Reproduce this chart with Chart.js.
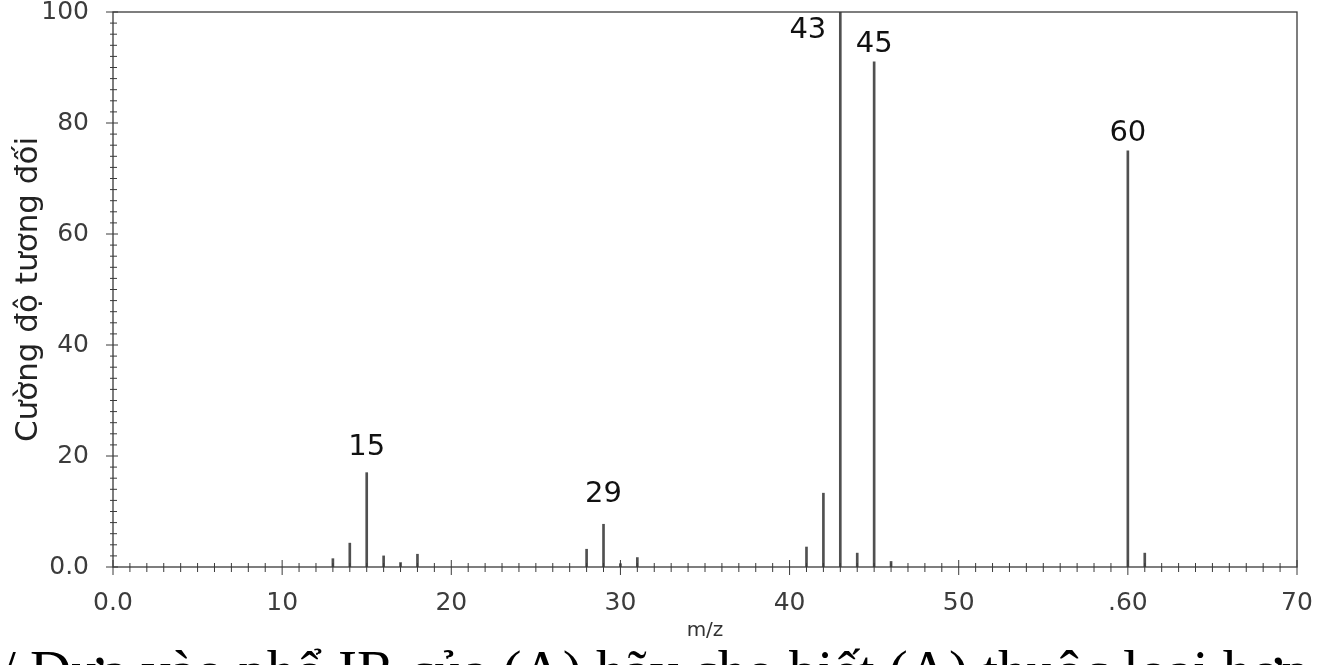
<!DOCTYPE html>
<html>
<head>
<meta charset="utf-8">
<script src="https://cdn.jsdelivr.net/npm/chart.js@4.4.1/dist/chart.umd.min.js"></script>
<style>
  html,body{margin:0;padding:0;background:#fff;overflow:hidden;}
  #wrap{position:relative;width:1317px;height:665px;overflow:hidden;}
  #c{position:absolute;left:0;top:0;}
  #cap{position:absolute;left:0px;top:642px;line-height:1;white-space:nowrap;font-family:"Liberation Serif","Times New Roman",serif;font-size:57px;color:#000;}
</style>
</head>
<body>
<div id="wrap">
<canvas id="c" width="1317" height="665"></canvas>
<div id="cap">/ Dựa vào phổ IR của (A) hãy cho biết (A) thuộc loại hợp chất nào</div>
</div>
<script>
const mzValues = [13, 14, 15, 16, 17, 18, 28, 29, 30, 31, 41, 42, 43, 44, 45, 46, 60, 61];
const intensities = [1.5, 4.3, 17, 2, 0.8, 2.3, 3.2, 7.7, 0.6, 1.7, 3.6, 13.3, 100, 2.5, 91, 1, 75, 2.5];
const labelledPeaks = [15, 29, 43, 45, 60];
const xTickLabels = {0: '0.0', 10: '10', 20: '20', 30: '30', 40: '40', 50: '50', 60: '.60', 70: '70'};
const yTickLabels = {0: '0.0', 20: '20', 40: '40', 60: '60', 80: '80', 100: '100'};
const xTitle = 'm/z';
const yTitle = 'Cường độ tương đối';

const lineColor = '#3a3a3a';
const fam = '"DejaVu Sans", Verdana, sans-serif';

const framePlugin = {
  id: 'frame',
  afterDraw(chart) {
    const {ctx, chartArea: a, scales: {x, y}} = chart;
    ctx.save();
    ctx.strokeStyle = lineColor;
    ctx.lineWidth = 1.3;
    ctx.strokeRect(a.left, a.top, a.right - a.left, a.bottom - a.top);
    ctx.lineWidth = 1;
    for (let v = 0; v <= 70; v++) {
      const px = x.getPixelForValue(v);
      const major = v % 10 === 0;
      ctx.beginPath();
      ctx.moveTo(px, a.bottom - (major ? 7 : 4));
      ctx.lineTo(px, a.bottom + (major ? 8 : 5));
      ctx.stroke();
    }
    for (let v = 0; v <= 100; v += 2) {
      const py = y.getPixelForValue(v);
      const major = v % 20 === 0;
      ctx.beginPath();
      ctx.moveTo(a.left - (major ? 7 : 3), py);
      ctx.lineTo(a.left + (major ? 5 : 4), py);
      ctx.stroke();
    }
    ctx.fillStyle = '#111';
    ctx.font = '29px ' + fam;
    ctx.textBaseline = 'alphabetic';
    // gap between a peak top and its label baseline (layout only)
    const gapFor = v => v < 12 ? 22 : (v < 30 ? 18 : 10);
    labelledPeaks.forEach(m => {
      const i = mzValues.indexOf(m);
      const px = x.getPixelForValue(m);
      const py = y.getPixelForValue(intensities[i]);
      if (intensities[i] >= 100) {
        ctx.textAlign = 'right';
        ctx.fillText(String(m), px - 14, py + 26);
      } else {
        ctx.textAlign = 'center';
        ctx.fillText(String(m), px, py - gapFor(intensities[i]));
      }
    });
    ctx.restore();
  }
};

new Chart(document.getElementById('c'), {
  type: 'bar',
  data: {
    datasets: [{
      data: mzValues.map((m, i) => ({x: m, y: intensities[i]})),
      backgroundColor: '#505050',
      borderWidth: 0,
      barThickness: 2,
    }]
  },
  options: {
    responsive: false,
    animation: false,
    events: [],
    layout: {padding: {top: 12, right: 20, left: 0, bottom: 0}},
    plugins: {legend: {display: false}, tooltip: {enabled: false}},
    scales: {
      x: {
        type: 'linear',
        min: 0, max: 70,
        offset: false,
        grid: {display: false},
        border: {display: false},
        afterFit(s) { s.height = 98; s.paddingLeft = 0; s.paddingRight = 0; },
        afterBuildTicks(s) { s.ticks = Object.keys(xTickLabels).map(v => ({value: +v})); },
        ticks: {
          autoSkip: false, maxRotation: 0, padding: 13,
          color: '#3c3c3c',
          font: {family: fam, size: 25},
          callback: v => xTickLabels[v]
        },
        title: {display: true, text: xTitle, color: '#333', padding: {top: 0, bottom: 22},
          font: {family: fam, size: 20}}
      },
      y: {
        min: 0, max: 100,
        grid: {display: false},
        border: {display: false},
        afterFit(s) { s.width = 113; s.paddingTop = 0; s.paddingBottom = 0; },
        afterBuildTicks(s) { s.ticks = Object.keys(yTickLabels).map(v => ({value: +v})); },
        ticks: {
          padding: 16,
          color: '#3c3c3c',
          font: {family: fam, size: 25},
          callback: v => yTickLabels[v]
        },
        title: {display: true, text: yTitle, color: '#222', padding: {top: 10, bottom: 0},
          font: {family: fam, size: 31}}
      }
    }
  },
  plugins: [framePlugin]
});
</script>
</body>
</html>
